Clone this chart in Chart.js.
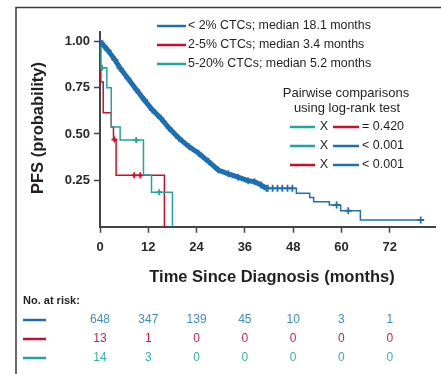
<!DOCTYPE html>
<html>
<head>
<meta charset="utf-8">
<script src="https://cdn.jsdelivr.net/npm/chart.js@4.4.1/dist/chart.umd.min.js"></script>
<style>
html,body{margin:0;padding:0;background:#fff;}
canvas{display:block;}
</style>
</head>
<body>
<canvas id="c" width="441" height="374"></canvas>
<script>
// ---- data (months, PFS probability) ----
const blueSmooth = [[0,1.0],[1,0.975],[2,0.95],[3.7,0.90],[5,0.855],[6.9,0.80],[9,0.74],[11,0.684],[13,0.63],[15.1,0.585],[17.2,0.531],[19.6,0.477],[22.1,0.432],[24.5,0.396],[27,0.351],[29.4,0.306],[31.9,0.285],[34.3,0.267],[36.8,0.248],[38.4,0.243],[40,0.225],[41.3,0.207]];
const blueSteps = [[41.3,0.207],[48.8,0.18],[52.1,0.157],[53.1,0.135],[57.0,0.117],[59.8,0.086],[64.7,0.036],[79.7,0.036]];
const blueCensor = [[41.7,0.207],[42.9,0.207],[44.1,0.207],[45.3,0.207],[46.6,0.207],[47.8,0.207],[58.8,0.117],[61.7,0.086],[79.7,0.036]];
const redSteps = [[0,0.87],[0.2,0.78],[0.8,0.615],[2.8,0.537],[3.35,0.47],[4.0,0.277],[16.0,0]];
const redCensor = [[3.6,0.47],[8.5,0.277],[10.0,0.277]];
const tealSteps = [[0,1.0],[0.25,0.857],[1.7,0.75],[2.8,0.537],[5.0,0.468],[10.8,0.279],[12.8,0.186],[18.0,0]];
const tealCensor = [[0.5,0.857],[9.0,0.468],[14.7,0.186]];

const xTicks = [0,12,24,36,48,60,72];
const yTicks = [0.25,0.50,0.75,1.00];
const seriesLabels = ['< 2% CTCs; median 18.1 months','2-5% CTCs; median 3.4 months','5-20% CTCs; median 5.2 months'];
const atRiskBlue = [648,347,139,45,10,3,1];
const atRiskRed = [13,1,0,0,0,0,0];
const atRiskTeal = [14,3,0,0,0,0,0];
const pairwise = [['teal','red','= 0.420'],['teal','blue','< 0.001'],['red','blue','< 0.001']];

const COL = {blue:'#1c70b0', red:'#c8102e', teal:'#1fa59b'};
const NUMCOL = {blue:'#3d8ec8', red:'#cc1f45', teal:'#33b2aa'};
const TXT = '#231f20';
const FONT = '"Liberation Sans", Arial, sans-serif';

const pts = a => a.map(p => ({x:p[0], y:p[1]}));

const overlay = {
  id:'overlay',
  afterDraw(chart){
    const ctx = chart.ctx;
    const xs = chart.scales.x;
    ctx.save();
    // frame
    ctx.strokeStyle = '#3a3a3a'; ctx.lineWidth = 1.5;
    ctx.beginPath(); ctx.moveTo(16, 374); ctx.lineTo(16, 7.5); ctx.lineTo(441, 7.5); ctx.stroke();

    // legend
    ctx.font = '12.4px ' + FONT; ctx.textBaseline = 'middle'; ctx.textAlign = 'left';
    const lk = ['blue','red','teal'];
    lk.forEach((k,i) => {
      const y = 26 + i*19;
      ctx.strokeStyle = COL[k]; ctx.lineWidth = 2.5;
      ctx.beginPath(); ctx.moveTo(157, y); ctx.lineTo(186, y); ctx.stroke();
      ctx.fillStyle = TXT; ctx.fillText(seriesLabels[i], 188, y);
    });

    // pairwise block
    ctx.font = '13px ' + FONT;
    ctx.textAlign = 'center';
    ctx.fillText('Pairwise comparisons', 346, 93);
    ctx.fillText('using log-rank test', 347, 108);
    ctx.font = '12.5px ' + FONT;
    pairwise.forEach((r,i) => {
      const y = 127 + i*19;
      ctx.strokeStyle = COL[r[0]]; ctx.lineWidth = 2.5;
      ctx.beginPath(); ctx.moveTo(290, y); ctx.lineTo(315, y); ctx.stroke();
      ctx.strokeStyle = COL[r[1]];
      ctx.beginPath(); ctx.moveTo(333, y); ctx.lineTo(359, y); ctx.stroke();
      ctx.fillStyle = TXT; ctx.textAlign = 'center'; ctx.fillText('X', 324, y);
      ctx.textAlign = 'left'; ctx.fillText(r[2], 362, y);
    });

    // axis titles
    ctx.fillStyle = TXT; ctx.font = 'bold 16.5px ' + FONT; ctx.textAlign = 'center';
    ctx.fillText('Time Since Diagnosis (months)', 272, 277);
    ctx.save(); ctx.translate(38, 128); ctx.rotate(-Math.PI/2);
    ctx.fillText('PFS (probability)', 0, 0); ctx.restore();

    // number at risk
    ctx.font = 'bold 11px ' + FONT; ctx.textAlign = 'left'; ctx.fillStyle = TXT;
    ctx.fillText('No. at risk:', 23, 301);
    const rows = [['blue',atRiskBlue],['red',atRiskRed],['teal',atRiskTeal]];
    ctx.font = '12px ' + FONT; ctx.textAlign = 'center';
    rows.forEach((r,i) => {
      const y = 320 + i*19;
      ctx.strokeStyle = COL[r[0]]; ctx.lineWidth = 2.5;
      ctx.beginPath(); ctx.moveTo(23, y); ctx.lineTo(46, y); ctx.stroke();
      ctx.fillStyle = NUMCOL[r[0]];
      r[1].forEach((n,j) => ctx.fillText(String(n), xs.getPixelForValue(xTicks[j]), y));
    });
    ctx.restore();
  }
};

const lineDs = (data, color, w, stepped) => ({
  data: pts(data), showLine:true, borderColor:color, backgroundColor:color,
  borderWidth:w, pointRadius:0, stepped:stepped, tension:0
});
const censorDs = (data, color, r) => ({
  data: pts(data), showLine:false, pointStyle:'cross', pointRadius:r,
  borderColor:color, borderWidth:1.8
});

new Chart(document.getElementById('c'), {
  type:'scatter',
  data:{ datasets:[
    Object.assign(lineDs(blueSmooth, COL.blue, 5, false), {pointStyle:'cross', pointRadius:3.5, pointBorderWidth:1.5}),
    lineDs(blueSteps, COL.blue, 1.5, true),
    censorDs(blueCensor, COL.blue, 3.5),
    lineDs(tealSteps, COL.teal, 1.5, true),
    censorDs(tealCensor, COL.teal, 3),
    lineDs(redSteps, COL.red, 1.5, true),
    censorDs(redCensor, COL.red, 3)
  ]},
  options:{
    responsive:false, animation:false, events:[],
    layout:{padding:{top:32, right:1, left:0, bottom:0}},
    plugins:{legend:{display:false}, tooltip:{enabled:false}},
    scales:{
      x:{ type:'linear', min:0, max:83.3,
        afterBuildTicks: s => { s.ticks = xTicks.map(v => ({value:v})); },
        afterFit: s => { s.height = 147.3; },
        ticks:{ font:{family:FONT, size:13, weight:'bold'}, color:'#2a2a2a', padding:7, maxRotation:0, callback:v => String(v) },
        grid:{ drawOnChartArea:false, tickLength:6, tickColor:'#444', tickWidth:1.5 },
        border:{ color:'#444', width:2 }
      },
      y:{ min:0, max:1.05,
        afterBuildTicks: s => { s.ticks = yTicks.map(v => ({value:v})); },
        afterFit: s => { s.width = 100; },
        ticks:{ font:{family:FONT, size:13, weight:'bold'}, color:'#2a2a2a', padding:4, callback:v => v.toFixed(2) },
        grid:{ drawOnChartArea:false, tickLength:6, tickColor:'#444', tickWidth:1.5 },
        border:{ color:'#444', width:2 }
      }
    }
  },
  plugins:[overlay]
});
</script>
</body>
</html>
